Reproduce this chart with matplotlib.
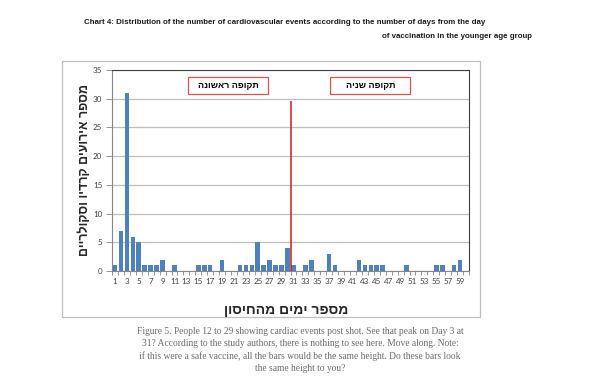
import matplotlib
matplotlib.use("Agg")
import matplotlib.pyplot as plt
from matplotlib.patches import Rectangle
import numpy as np

# days since vaccination and number of cardiovascular events
days = list(range(1, 61))
events = [1, 7, 31, 6, 5, 1, 1, 1, 2, 0,
          1, 0, 0, 0, 1, 1, 1, 0, 2, 0,
          0, 1, 1, 1, 5, 1, 2, 1, 1, 4,
          1, 0, 1, 2, 0, 0, 3, 1, 0, 0,
          0, 2, 1, 1, 1, 1, 0, 0, 0, 1,
          0, 0, 0, 0, 1, 1, 0, 1, 2, 0]
xtick_days = list(range(1, 60, 2))
yticks = list(range(0, 36, 5))

split_day = 30.6
split_height = 29.6

title1 = "Chart 4: Distribution of the number of cardiovascular events according to the number of days from the day"
title2 = "of vaccination in the younger age group"
ylabel = "מספר אירועים קרדיו וסקולריים"
xlabel = "מספר ימים מהחיסון"
period1 = "תקופה ראשונה"
period2 = "תקופה שניה"
caption = ("Figure 5. People 12 to 29 showing cardiac events post shot. See that peak on Day 3 at\n"
           "31? According to the study authors, there is nothing to see here. Move along. Note:\n"
           "if this were a safe vaccine, all the bars would be the same height. Do these bars look\n"
           "the same height to you?")


def heb(s):
    # matplotlib has no bidi support, so flip Hebrew for display
    return s[::-1]


W, H = 606, 386
fig = plt.figure(figsize=(W / 100, H / 100), dpi=100)

# outer chart frame
fig.patches.append(Rectangle((62 / W, 1 - 317 / H), (480 - 62) / W, (317 - 61) / H,
                             transform=fig.transFigure, fill=False,
                             edgecolor="#bfbfbf", linewidth=0.9))

ax = fig.add_axes([112 / W, 1 - 271 / H, (469 - 112) / W, (271 - 70) / H])
ax.bar(days, events, width=0.78, color="#4f81bd", zorder=3)
ax.vlines(split_day, 0, split_height, color="#d01c1c", linewidth=1.1, zorder=4)

ax.set_xlim(0.5, 60.5)
ax.set_ylim(0, 35)
ax.set_yticks(yticks)
ax.set_xticks(xtick_days)
ax.set_xticks(np.arange(0.5, 61, 1), minor=True)
ax.tick_params(axis="x", which="major", length=0, pad=5)
ax.tick_params(axis="x", which="minor", length=3, color="#868686", width=0.6)
ax.tick_params(axis="y", length=4, color="#868686", width=0.6, pad=3)
for lab in ax.get_xticklabels() + ax.get_yticklabels():
    lab.set_fontfamily("Lato")
    lab.set_fontsize(5.8)
    lab.set_color("#404040")

ax.grid(axis="y", color="#bfbfbf", linewidth=0.9, zorder=0)
ax.spines["left"].set_color("#868686")
ax.spines["bottom"].set_color("#868686")
ax.spines["top"].set_color("#404040")
ax.spines["right"].set_color("#404040")
for sp in ax.spines.values():
    sp.set_linewidth(0.8)

# period boxes
for cx, txt in [(0.326, period1), (0.724, period2)]:
    bw, bh = 80 / 357, 17 / 201
    ax.add_patch(Rectangle((cx - bw / 2, 0.925 - bh / 2), bw, bh, transform=ax.transAxes,
                           facecolor="white", edgecolor="#d9534f", linewidth=0.9, zorder=5))
    ax.text(cx, 0.925, heb(txt), transform=ax.transAxes, ha="center", va="center",
            fontsize=6.5, fontweight="bold", family="Liberation Sans", zorder=6)

fig.text(85 / W, 1 - 170 / H, heb(ylabel), rotation=90, ha="center", va="center",
         fontsize=9, fontweight="bold", family="Liberation Sans", color="#262626")
fig.text(286 / W, 1 - 310 / H, heb(xlabel), ha="center", va="center",
         fontsize=10, fontweight="bold", family="Liberation Sans", color="#262626")

fig.text(84 / W, 1 - 22 / H, title1, ha="left", va="center",
         fontsize=5.65, fontweight="bold", family="Liberation Sans", color="#1a1a1a")
fig.text(532 / W, 1 - 37 / H, title2, ha="right", va="center",
         fontsize=5.65, fontweight="bold", family="Liberation Sans", color="#1a1a1a")

fig.text(300 / W, 1 - 350 / H, caption, ha="center", va="center", multialignment="center",
         fontsize=6.85, family="Liberation Serif", color="#6b6b6b", linespacing=1.42)

fig.savefig("out.png", dpi=100)
